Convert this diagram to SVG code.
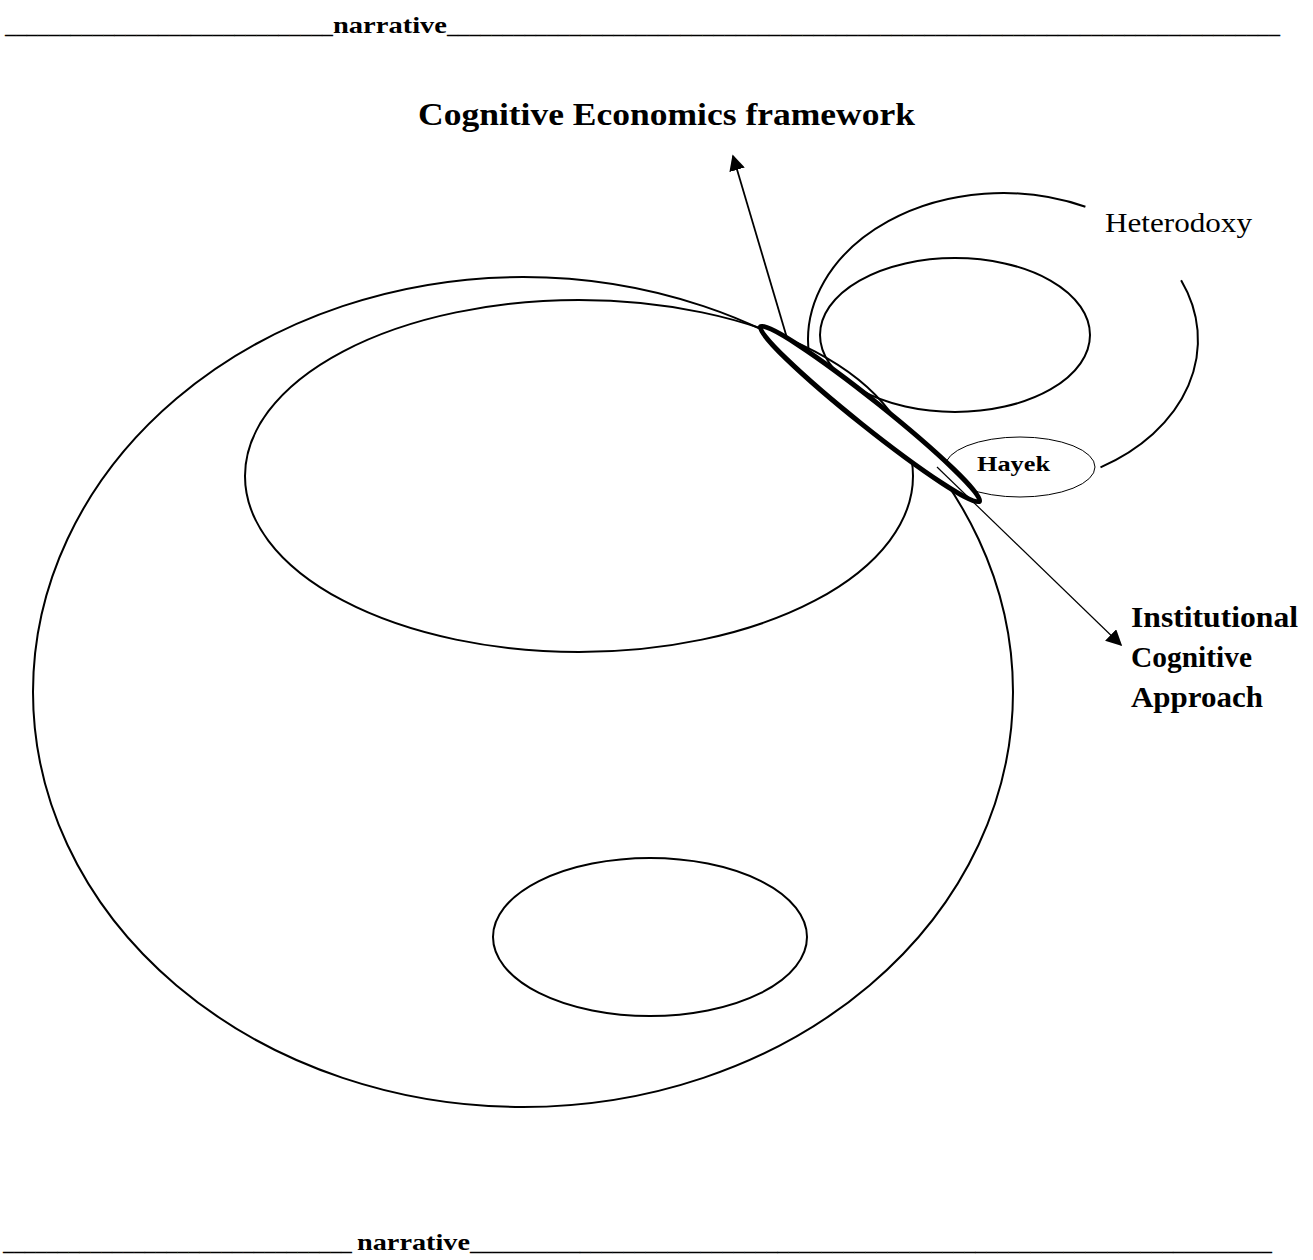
<svg xmlns="http://www.w3.org/2000/svg" width="1313" height="1260" viewBox="0 0 1313 1260">
<style>
  .ln { fill: none; stroke: #000; stroke-width: 2; }
  .txt { font-family: "Liberation Serif", "DejaVu Serif", serif; fill: #000; }
  .b { font-weight: bold; }
</style>
<defs>
  <marker id="ah2" viewBox="0 0 10 10" refX="9" refY="5" markerWidth="16" markerHeight="16" markerUnits="userSpaceOnUse" orient="auto">
    <path d="M0,0 L10,5 L0,10 z" fill="#000"/>
  </marker>
</defs>
<rect width="1313" height="1260" fill="#fff"/>

<g id="narrative-top">
  <text class="txt b" x="5" y="33" font-size="22" textLength="328" lengthAdjust="spacingAndGlyphs">______________________________</text>
  <text class="txt b" x="333" y="33" font-size="23" textLength="114" lengthAdjust="spacingAndGlyphs">narrative</text>
  <text class="txt b" x="447" y="33" font-size="22" textLength="833" lengthAdjust="spacingAndGlyphs">___________________________________________________________________________</text>
</g>

<g id="outer">
  <ellipse class="ln" cx="523" cy="692" rx="490" ry="415"/>
</g>
<g id="inner-top">
  <ellipse class="ln" cx="579" cy="476" rx="334" ry="176"/>
</g>
<g id="inner-bottom">
  <ellipse class="ln" cx="650" cy="937" rx="157" ry="79"/>
</g>
<g id="heterodoxy">
  <path class="ln" d="M1100.5,467.3 A195,147 0 0 0 1181.1,280.2"/>
  <path class="ln" d="M1085.4,206.8 A195,147 0 0 0 809.5,358"/>
  <ellipse class="ln" cx="955" cy="335" rx="135" ry="77"/>
  <text class="txt" x="1105" y="232" font-size="27" fill="#333" textLength="147" lengthAdjust="spacingAndGlyphs">Heterodoxy</text>
</g>
<g id="hayek">
  <ellipse cx="1020" cy="467" rx="75" ry="30" fill="#fff" stroke="#000" stroke-width="1"/>
  <text class="txt b" x="977" y="471" font-size="20" textLength="73" lengthAdjust="spacingAndGlyphs">Hayek</text>
</g>
<g id="overlap">
  <ellipse cx="870" cy="414" rx="140" ry="13" fill="#fff" stroke="#000" stroke-width="5" transform="rotate(38.6 870 414)"/>
</g>

<g id="connectors">
  <line x1="787" y1="338" x2="733" y2="156" stroke="#000" stroke-width="1.8" marker-end="url(#ah2)"/>
  <line x1="937" y1="467" x2="1121" y2="645" stroke="#000" stroke-width="1.2" marker-end="url(#ah2)"/>
</g>

<g id="labels">
  <text class="txt b" x="418" y="125" font-size="31" textLength="497" lengthAdjust="spacingAndGlyphs">Cognitive Economics framework</text>
  <text class="txt b" x="1131" y="627" font-size="29" textLength="167" lengthAdjust="spacingAndGlyphs">Institutional</text>
  <text class="txt b" x="1131" y="667" font-size="29" textLength="121" lengthAdjust="spacingAndGlyphs">Cognitive</text>
  <text class="txt b" x="1131" y="707" font-size="29" textLength="132" lengthAdjust="spacingAndGlyphs">Approach</text>
</g>

<g id="narrative-bottom">
  <text class="txt b" x="3" y="1250" font-size="22" textLength="349" lengthAdjust="spacingAndGlyphs">________________________________</text>
  <text class="txt b" x="357" y="1250" font-size="23" textLength="113" lengthAdjust="spacingAndGlyphs">narrative</text>
  <text class="txt b" x="470" y="1250" font-size="22" textLength="802" lengthAdjust="spacingAndGlyphs">_________________________________________________________________________</text>
</g>
</svg>
